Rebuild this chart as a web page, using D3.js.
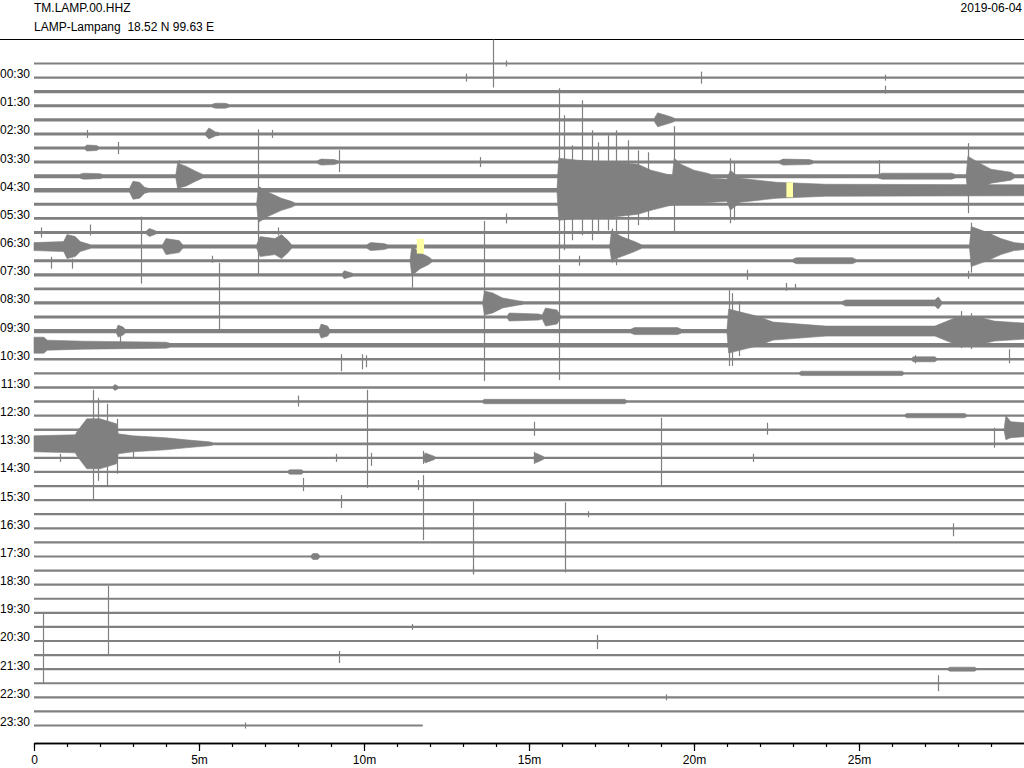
<!DOCTYPE html>
<html><head><meta charset="utf-8">
<script src="https://cdn.jsdelivr.net/npm/d3@7/dist/d3.min.js"></script>
<style>
html,body{margin:0;padding:0;background:#fff;}
svg{display:block;font-family:"Liberation Sans",Arial,Helvetica,sans-serif;}
</style>
</head><body>
<svg id="chart" width="1024" height="768"></svg>
<script>
// ---------- data ----------
const stationId = "TM.LAMP.00.HHZ";
const stationInfo = "LAMP-Lampang  18.52 N 99.63 E";
const dayLabel = "2019-06-04";
const rowLabels = ["00:30","01:30","02:30","03:30","04:30","05:30","06:30","07:30",
  "08:30","09:30","10:30","11:30","12:30","13:30","14:30","15:30","16:30","17:30",
  "18:30","19:30","20:30","21:30","22:30","23:30"];
const xTickValues = [0,5,10,15,20,25];
const xTickLabels = ["0","5m","10m","15m","20m","25m"];
const minorTickValues = [0,1,2,3,4,5,6,7,8,9,10,11,12,13,14,15,16,17,18,19,20,21,22,23,24,25,26,27,28,29];
const rowCount = 48;
const rowMinutes = 30;
const lastRowEnd = 11.78;
// background noise half-amplitude per 30-minute row (counts)
const baseNoise = [1.0,1.1,1.6,1.4,1.7,1.5,1.5,1.5,2.0,2.2,1.5,1.4,1.5,2.0,1.5,1.6,
  1.4,1.6,1.5,2.2,2.2,1.2,1.2,1.2,1.2,1.2,1.2,1.4,1.2,1.1,1.1,1.1,
  1.1,1.1,1.1,1.1,1.1,1.1,1.1,1.1,1.1,1.1,1.1,1.1,1.1,1.1,1.2,1.1];
// signal envelopes: [row, [[minute, up, down], ...]]
const envelopes = [
  [3, [[5.4,0,0],[5.5,2.5,2.5],[5.8,2.5,2.5],[5.9,0,0]]],
  [4, [[18.8,0,0],[18.9,7,7],[19.3,3,3],[19.4,0,0]]],
  [5, [[5.2,0,0],[5.3,6,5],[5.5,2,2],[5.6,0,0]]],
  [6, [[1.55,0,0],[1.6,3,3],[1.9,2.5,2.5],[1.95,0,0]]],
  [7, [[8.6,0,0],[8.7,3,3],[9.1,2.5,2.5],[9.2,0,0]]],
  [7, [[22.6,0,0],[22.7,3,3],[23.5,2.5,2.5],[23.6,0,0]]],
  [8, [[1.4,0,0],[1.5,3,3],[2.0,2.5,2.5],[2.05,0,0]]],
  [8, [[4.3,0,0],[4.35,13,12],[4.6,10,10],[4.9,5,5],[5.1,0,0]]],
  [8, [[19.35,0,0],[19.4,18,14],[19.6,12,10],[20.0,6,6],[20.4,3,3],[20.5,0,0]]],
  [8, [[25.6,0,0],[25.7,3,3],[27.8,3,3],[27.9,0,0]]],
  [8, [[28.25,0,0],[28.3,20,20],[28.6,14,14],[29.0,7,7],[29.6,4,4],[29.7,0,0]]],
  [9, [[2.9,0,0],[3.0,9,9],[3.2,8,8],[3.35,3,3],[3.45,0,0]]],
  [9, [[15.85,0,0],[15.9,32,30],[16.5,30,28],[17.5,28,27],[18.3,26,24],[18.7,20,20],[19.3,15,15],[21.0,11,11],[21.1,20,20],[21.4,12,12],[22.5,8,8],[24,6,6],[29.9,5.5,5.5],[30,5.5,5.5]]],
  [10, [[6.75,0,0],[6.8,18,18],[7.1,12,12],[7.5,6,6],[7.8,3,3],[7.9,0,0]]],
  [12, [[3.4,0,0],[3.5,4,4],[3.7,0,0]]],
  [13, [[0,4,4],[0.9,5,5],[1.0,12,12],[1.25,10,10],[1.4,5,5],[1.6,3,3],[1.7,0,0]]],
  [13, [[3.9,0,0],[4.0,8,8],[4.4,6,6],[4.5,0,0]]],
  [13, [[6.75,0,0],[6.85,10,10],[7.3,8,8],[7.5,12,12],[7.7,6,6],[7.8,0,0]]],
  [13, [[10.1,0,0],[10.2,4,4],[10.6,3,3],[10.7,0,0]]],
  [13, [[17.45,0,0],[17.5,16,14],[17.8,10,10],[18.2,5,5],[18.4,0,0]]],
  [13, [[28.35,0,0],[28.4,20,20],[28.9,14,14],[29.3,8,8],[29.7,4,4],[30,3,3]]],
  [14, [[11.4,0,0],[11.45,15,15],[11.7,8,8],[11.95,4,4],[12.05,0,0]]],
  [14, [[23.0,0,0],[23.1,3,3],[24.8,3,3],[24.9,0,0]]],
  [15, [[9.35,0,0],[9.4,4,4],[9.6,2,2],[9.65,0,0]]],
  [17, [[13.6,0,0],[13.65,12,12],[13.9,10,10],[14.2,5,5],[14.7,2,2],[14.8,0,0]]],
  [17, [[24.5,0,0],[24.6,3,3],[27.3,3,3],[27.4,6,6],[27.5,0,0]]],
  [18, [[14.35,0,0],[14.4,4,4],[15.3,3,3],[15.4,2,2],[15.5,9,9],[15.85,7,7],[15.95,0,0]]],
  [19, [[2.5,0,0],[2.55,6,6],[2.7,4,4],[2.75,0,0]]],
  [19, [[8.65,0,0],[8.7,7,7],[8.9,5,5],[8.95,0,0]]],
  [19, [[18.1,0,0],[18.2,3.5,3.5],[19.5,3.5,3.5],[19.6,0,0]]],
  [19, [[21.0,0,0],[21.05,22,22],[21.9,15,15],[22.4,9,9],[24,5,5],[27.3,5,5],[27.9,13,13],[28.6,14,14],[29.1,10,10],[30,8,8]]],
  [20, [[0,8,8],[0.3,8,8],[0.4,5,5],[1.5,4,4],[4,3,3],[4.1,0,0]]],
  [21, [[26.6,0,0],[26.65,2.5,2.5],[27.3,2.5,2.5],[27.35,0,0]]],
  [22, [[23.2,0,0],[23.25,2.2,2.2],[26.3,2.2,2.2],[26.35,0,0]]],
  [23, [[2.4,0,0],[2.45,3,3],[2.55,0,0]]],
  [24, [[13.6,0,0],[13.65,2.2,2.2],[17.9,2.2,2.2],[17.95,0,0]]],
  [25, [[26.4,0,0],[26.45,2.2,2.2],[28.2,2.2,2.2],[28.25,0,0]]],
  [26, [[29.4,0,0],[29.45,14,10],[29.6,8,8],[30,7,7]]],
  [27, [[0,8,8],[1.25,9,9],[1.3,12,12],[1.6,25,25],[2.0,25,25],[2.5,20,20],[2.55,10,10],[3.0,8,8],[4.0,6,6],[4.6,4,4],[5.3,2,2],[5.4,0,0]]],
  [28, [[11.8,0,0],[11.85,5,5],[12.1,2,2],[12.15,0,0]]],
  [28, [[15.15,0,0],[15.2,5,5],[15.4,2,2],[15.45,0,0]]],
  [29, [[7.7,0,0],[7.75,2.2,2.2],[8.1,2.2,2.2],[8.15,0,0]]],
  [35, [[8.4,0,0],[8.45,3,3],[8.6,3,3],[8.65,0,0]]],
  [43, [[27.7,0,0],[27.75,2,2],[28.5,2,2],[28.55,0,0]]]
];
// single-sample peaks: [row, minute, up, down]
const spikes = [
  [0,13.9,24,24],[0,14.3,3,3],
  [1,13.1,4,4],[1,20.2,6,6],[1,25.8,3,3],
  [2,25.8,6,2],
  [5,1.6,4,4],[5,7.2,4,4],
  [6,2.55,6,6],
  [7,9.25,12,10],[7,13.5,5,5],[7,25.6,2,12],
  [8,4.4,16,14],[8,19.4,50,55],[8,28.3,33,37],
  [9,15.9,102,70],[9,16.05,75,60],[9,16.3,45,50],[9,16.6,90,45],[9,16.9,60,50],[9,17.1,48,42],[9,17.4,55,40],[9,17.65,60,75],[9,18.0,50,50],[9,18.3,40,35],[9,18.6,38,30],[9,21.1,32,33],[9,21.2,28,30],
  [10,6.8,75,30],
  [11,14.3,5,5],
  [12,0.2,5,5],[12,1.7,8,3],[12,7.4,5,3],
  [13,3.25,30,37],[13,6.8,25,28],[13,17.5,18,16],[13,28.4,24,26],
  [14,0.5,4,8],[14,1.15,2,8],[14,5.4,5,2],[14,11.45,16,27],[14,16.5,5,5],
  [15,21.6,5,5],[15,28.3,4,4],
  [16,22.8,6,2],[16,23.05,5,1],
  [17,5.6,40,29],[17,13.65,82,78],
  [18,15.9,52,63],
  [19,2.6,3,12],[19,21.05,41,35],[19,21.15,38,35],[19,21.35,30,25],[19,28.1,20,17],[19,28.4,18,18],
  [21,9.3,5,12],[21,9.95,5,10],[21,10.05,4,8],[21,26.7,4,4],[21,29.55,10,4],
  [24,8.0,6,5],
  [26,15.15,8,6],[26,22.2,7,5],[26,29.1,2,18],
  [27,1.8,54,56],[27,1.95,46,37],[27,2.2,40,42],[27,2.5,25,30],[27,3.0,4,14],[27,10.1,54,44],
  [28,0.8,4,4],[28,9.15,4,4],[28,10.2,5,8],[28,11.8,7,6],[28,15.15,6,6],[28,19.0,40,29],[28,21.8,4,4],
  [30,8.15,8,5],[30,11.65,6,4],
  [31,9.3,5,8],[31,11.8,25,40],
  [32,16.8,3,3],
  [33,27.85,5,8],
  [34,13.3,41,31],[34,16.1,40,30],
  [36,13.3,4,4],
  [40,2.24,41,29],[40,11.45,3,3],
  [41,17.05,6,8],
  [42,0.26,43,28],[42,9.25,4,8],
  [44,27.4,8,8],
  [45,19.15,3,3],
  [47,6.4,3,3]
];
// event pick markers: [row, startMinute, endMinute]
const markers = [[9,22.8,23.0],[13,11.6,11.82]];

// ---------- drawing ----------
const traceColor = "#808080";
const svg = d3.select("#chart");
const x = d3.scaleLinear().domain([0, rowMinutes]).range([34, 1024]);
const rowY = d3.scaleLinear().domain([0, rowCount - 1]).range([63.5, 725.5]);
const amp = d3.scaleLinear().domain([0, 100]).range([0, 100]);

// header
svg.append("text").attr("x", 34).attr("y", 12).attr("font-size", 12).attr("fill", "#000").text(stationId);
svg.append("text").attr("x", 34).attr("y", 31).attr("font-size", 12).attr("fill", "#000")
  .style("white-space", "pre").text(stationInfo);
svg.append("text").attr("x", 1022).attr("y", 12).attr("font-size", 12).attr("fill", "#000")
  .attr("text-anchor", "end").text(dayLabel);
svg.append("line").attr("x1", 0).attr("x2", 1024).attr("y1", 39.5).attr("y2", 39.5)
  .attr("stroke", "#000").attr("stroke-width", 1);

const traces = svg.append("g").attr("class", "traces");
const rows = d3.range(rowCount);

// background noise band of each row
const band = d3.area()
  .x(d => x(d.m))
  .y0(d => rowY(d.r) - amp(d.a))
  .y1(d => rowY(d.r) + amp(d.a));
traces.selectAll("path.base").data(rows).join("path")
  .attr("class", "base")
  .attr("fill", traceColor)
  .attr("d", r => {
    const end = r === rowCount - 1 ? lastRowEnd : rowMinutes;
    return band([{m: 0, r, a: baseNoise[r]}, {m: end, r, a: baseNoise[r]}]);
  });

// signal envelopes
const env = d3.area()
  .x(d => x(d.m))
  .y0(d => rowY(d.r) - amp(Math.max(d.up, baseNoise[d.r])))
  .y1(d => rowY(d.r) + amp(Math.max(d.down, baseNoise[d.r])));
traces.selectAll("path.env").data(envelopes).join("path")
  .attr("class", "env")
  .attr("fill", traceColor)
  .attr("stroke", traceColor)
  .attr("stroke-width", 0.6)
  .attr("d", ([r, pts]) => env(pts.map(p => ({r, m: p[0], up: p[1], down: p[2]}))));

// peaks
traces.selectAll("line.spike").data(spikes).join("line")
  .attr("class", "spike")
  .attr("x1", d => Math.round(x(d[1])) + 0.5)
  .attr("x2", d => Math.round(x(d[1])) + 0.5)
  .attr("y1", d => rowY(d[0]) - amp(d[2]))
  .attr("y2", d => rowY(d[0]) + amp(d[3]))
  .attr("stroke", traceColor)
  .attr("stroke-width", 1.2);

// pick markers
svg.append("g").selectAll("rect").data(markers).join("rect")
  .attr("x", d => x(d[1]))
  .attr("width", d => x(d[2]) - x(d[1]))
  .attr("y", d => rowY(d[0]) - 8)
  .attr("height", 15)
  .attr("fill", "#ffffa6");

// row labels (every second row)
svg.append("g").selectAll("text").data(rowLabels).join("text")
  .attr("x", 30)
  .attr("y", (d, i) => rowY(2 * i + 1) + 0.5)
  .attr("text-anchor", "end")
  .attr("font-size", 12)
  .attr("fill", "#000")
  .text(d => d);

// x axis
const axisY = 743;
const minorAxis = d3.axisBottom(x).tickValues(minorTickValues).tickSize(4).tickSizeOuter(0).tickFormat("");
const majorAxis = d3.axisBottom(x).tickValues(xTickValues).tickSize(8).tickSizeOuter(0).tickPadding(4)
  .tickFormat((d, i) => xTickLabels[i]);
const gMinor = svg.append("g").attr("transform", `translate(0,${axisY})`).call(minorAxis);
const gMajor = svg.append("g").attr("transform", `translate(0,${axisY})`).call(majorAxis);
[gMinor, gMajor].forEach(g => {
  g.select(".domain").attr("stroke", "#000").attr("stroke-width", 1.3);
  g.selectAll(".tick line").attr("stroke", "#000").attr("stroke-width", 1.2);
});
gMajor.selectAll(".tick text").attr("font-size", 12).attr("fill", "#000")
  .attr("font-family", "'Liberation Sans',Arial,sans-serif");
</script>
</body></html>
